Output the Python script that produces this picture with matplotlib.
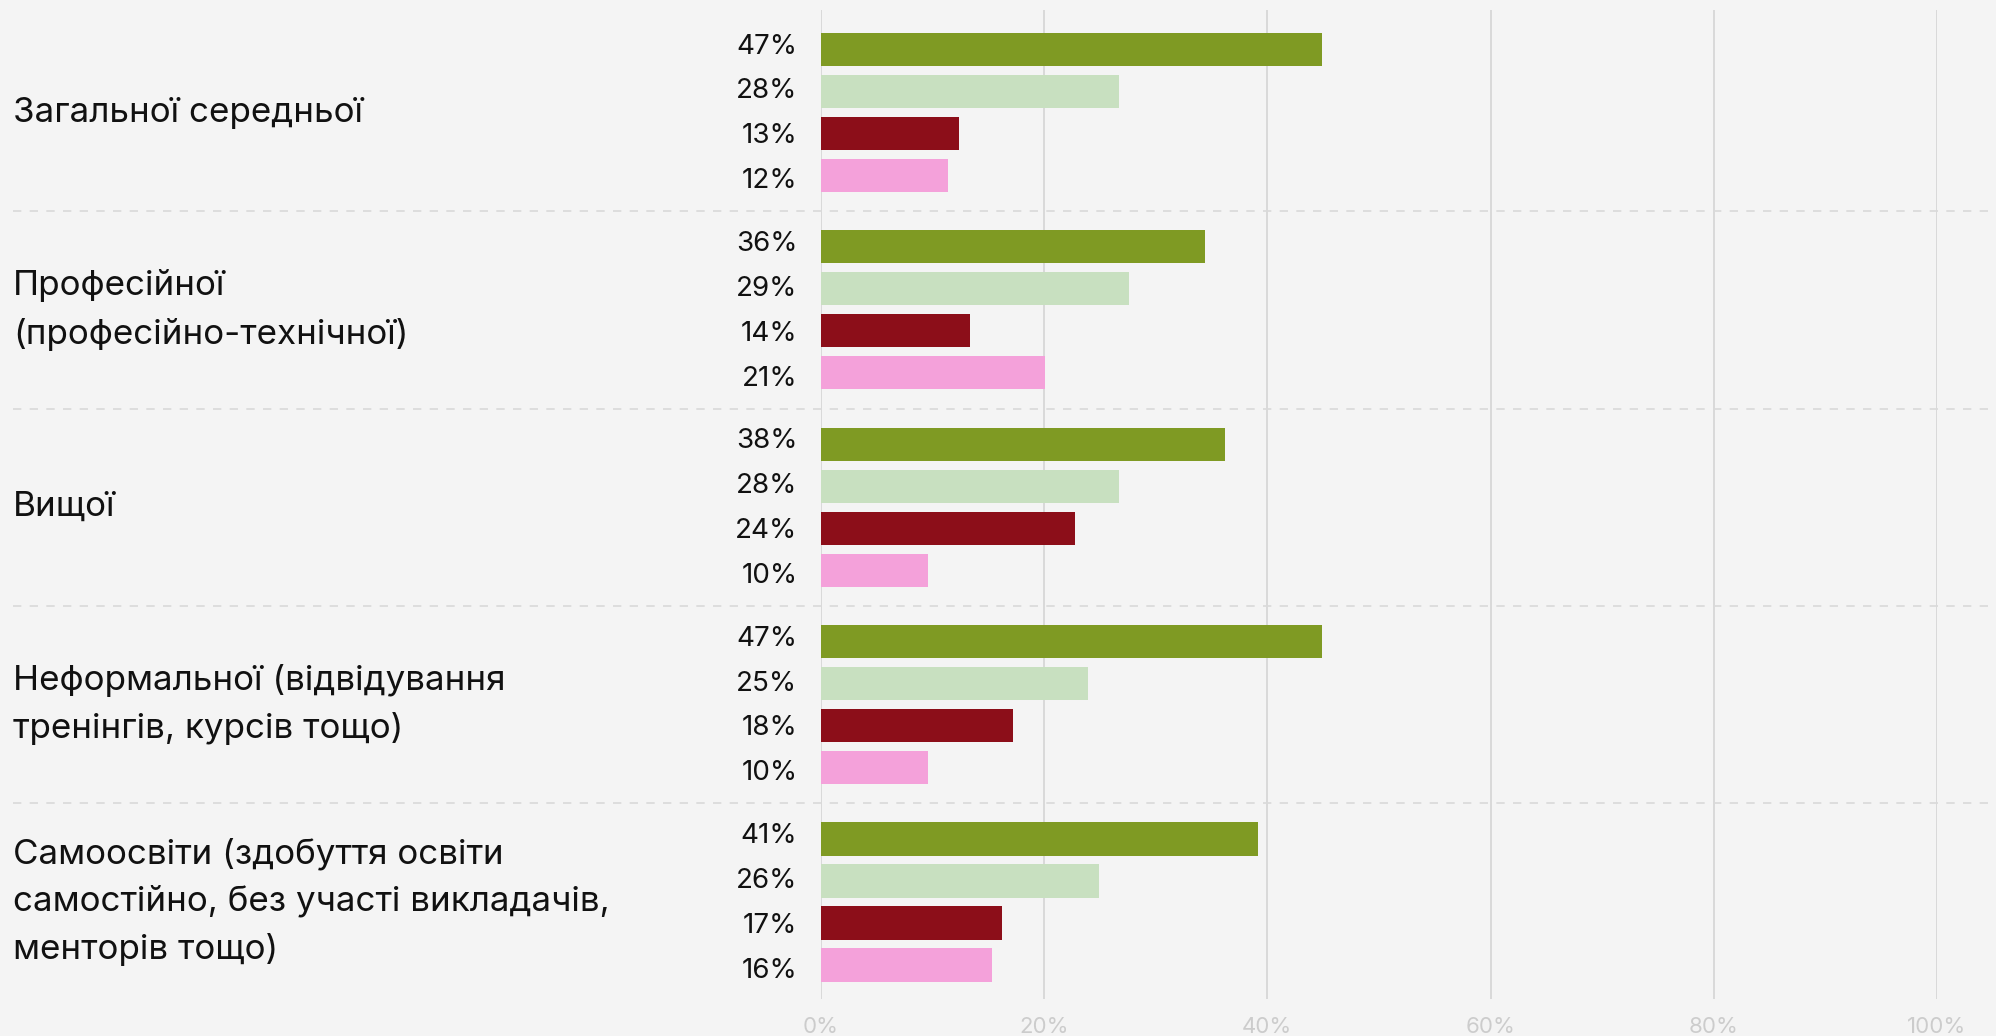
import matplotlib.pyplot as plt
import matplotlib.transforms as mtransforms

# категорії освіти (підписи зліва)
categories = [
    'Загальної середньої',
    'Професійної\n(професійно-технічної)',
    'Вищої',
    'Неформальної (відвідування\nтренінгів, курсів тощо)',
    'Самоосвіти (здобуття освіти\nсамостійно, без участі викладачів,\nменторів тощо)',
]

# підписи значень, як надруковано на графіку
value_labels = [
    ['47%', '28%', '13%', '12%'],
    ['36%', '29%', '14%', '21%'],
    ['38%', '28%', '24%', '10%'],
    ['47%', '25%', '18%', '10%'],
    ['41%', '26%', '17%', '16%'],
]

# довжини стовпців (у % від осі)
bar_lengths = [
    [44.9, 26.7, 12.4, 11.4],
    [34.4, 27.6, 13.4, 20.1],
    [36.2, 26.7, 22.8, 9.6],
    [44.9, 23.9, 17.2, 9.6],
    [39.2, 24.9, 16.2, 15.3],
]

bar_colors = ['#7f9a23', '#c8e0c0', '#8c0e19', '#f4a1da']
x_ticks = [0, 20, 40, 60, 80, 100]
x_tick_labels = ['0%', '20%', '40%', '60%', '80%', '100%']

bg = '#f4f4f4'
grid_col = '#d9d9d9'
group_step = 4.7
bar_h = 0.79
label_step = 1.07  # підписи значень трохи розсунуті відносно стовпців

plt.rcParams['font.family'] = ['Inter', 'DejaVu Sans']

fig = plt.figure(figsize=(19.96, 10.36), dpi=100, facecolor=bg)
ax = fig.add_axes([0.4113, 0.0357, 0.5591, 0.9546], facecolor=bg)

for g, (lengths, labels) in enumerate(zip(bar_lengths, value_labels)):
    mid = g * group_step + 1.5
    for i, (w, lab) in enumerate(zip(lengths, labels)):
        y = g * group_step + i
        ax.barh(y, w, height=bar_h, color=bar_colors[i], zorder=3)
        ax.annotate(lab, xy=(0, mid + (i - 1.5) * label_step), xytext=(-17, -1),
                    textcoords='offset points', ha='right', va='center',
                    fontsize=20, color='#111111')

ax.set_xlim(0, 100)
ax.set_ylim(4 * group_step + 3 + 0.81, -0.94)

ax.set_xticks(x_ticks)
ax.set_xticklabels(x_tick_labels)
ax.tick_params(axis='x', length=0, pad=13, labelsize=16, labelcolor='#cccccc')
ax.set_yticks([])
for s in ax.spines.values():
    s.set_visible(False)

for t in x_ticks:
    ax.axvline(t, color=grid_col, lw=1.4, zorder=1)

# пунктирні роздільники між групами, на всю ширину
trans = mtransforms.blended_transform_factory(fig.transFigure, ax.transData)
for g in range(len(categories) - 1):
    y = g * group_step + 3.85
    ax.plot([0.0065, 1.0], [y, y], transform=trans, color=grid_col, lw=1.2,
            dashes=(5, 5), clip_on=False, zorder=2)

# назви категорій
for g, cat in enumerate(categories):
    y = g * group_step + 1.5
    ax.text(0.0065, y, cat, transform=trans, ha='left', va='center',
            fontsize=25.2, color='#111111', linespacing=1.6)

fig.savefig('out.png', dpi=100, facecolor=bg)
